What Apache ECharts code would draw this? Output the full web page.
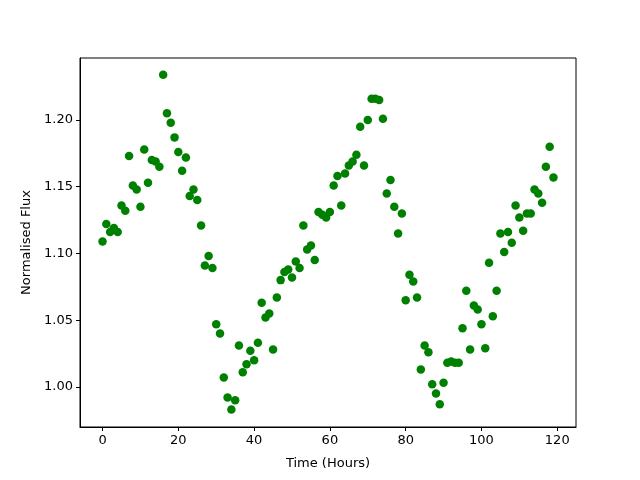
<!DOCTYPE html>
<html>
<head>
<meta charset="utf-8">
<script src="https://cdn.jsdelivr.net/npm/echarts@6/dist/echarts.min.js"></script>
<style>
  html, body { margin: 0; padding: 0; background: #fff; }
  #chart { width: 640px; height: 480px; }
</style>
</head>
<body>
<div id="chart"></div>
<script>
// hours 0..119
const hours = Array.from({ length: 120 }, (_, i) => i)
const flux = [
  1.109, 1.122, 1.116, 1.119, 1.116, 1.136, 1.132, 1.173, 1.151, 1.148,
  1.135, 1.178, 1.153, 1.170, 1.169, 1.165, 1.234, 1.205, 1.198, 1.187,
  1.176, 1.162, 1.172, 1.143, 1.148, 1.140, 1.121, 1.091, 1.098, 1.089,
  1.047, 1.040, 1.007, 0.992, 0.983, 0.990, 1.031, 1.011, 1.017, 1.027,
  1.020, 1.033, 1.063, 1.052, 1.055, 1.028, 1.067, 1.080, 1.086, 1.088,
  1.082, 1.094, 1.089, 1.121, 1.103, 1.106, 1.095, 1.131, 1.129, 1.127,
  1.131, 1.151, 1.158, 1.136, 1.160, 1.166, 1.169, 1.174, 1.195, 1.166,
  1.200, 1.216, 1.216, 1.215, 1.201, 1.145, 1.155, 1.135, 1.115, 1.130,
  1.065, 1.084, 1.079, 1.067, 1.013, 1.031, 1.026, 1.002, 0.995, 0.987,
  1.003, 1.018, 1.019, 1.018, 1.018, 1.044, 1.072, 1.028, 1.061, 1.058,
  1.047, 1.029, 1.093, 1.053, 1.072, 1.115, 1.101, 1.116, 1.108, 1.136,
  1.127, 1.117, 1.130, 1.130, 1.148, 1.145, 1.138, 1.165, 1.180, 1.157
]
const xTicks = [0, 20, 40, 60, 80, 100, 120]
const yTicks = [1.00, 1.05, 1.10, 1.15, 1.20]

const points = hours.map((h, i) => [h, flux[i]])
const font = 'DejaVu Sans'

const myChart = echarts.init(document.getElementById('chart'), null, { renderer: 'canvas' })
const option = {
  animation: false,
  textStyle: { fontFamily: font },
  grid: {
    left: 80,
    right: 64,
    top: 58,
    bottom: 53,
    show: true,
    borderColor: '#000',
    borderWidth: 1
  },
  xAxis: {
    type: 'value',
    min: -5.95,
    max: 124.95,
    name: 'Time (Hours)',
    nameLocation: 'middle',
    nameGap: 30,
    nameTextStyle: { color: '#000', fontSize: 13, fontFamily: font },
    axisLine: { show: true, onZero: false, lineStyle: { color: '#000', width: 1 } },
    axisTick: { show: true, inside: false, length: 4, customValues: xTicks, lineStyle: { color: '#000' } },
    axisLabel: { margin: 7, fontSize: 13, color: '#000', fontFamily: font, customValues: xTicks },
    splitLine: { show: false }
  },
  yAxis: {
    type: 'value',
    min: 0.9699,
    max: 1.2465,
    name: 'Normalised Flux',
    nameLocation: 'middle',
    nameRotate: 90,
    nameGap: 47,
    nameTextStyle: { color: '#000', fontSize: 13, fontFamily: font },
    axisLine: { show: true, onZero: false, lineStyle: { color: '#000', width: 1 } },
    axisTick: { show: true, inside: false, length: 4, customValues: yTicks, lineStyle: { color: '#000' } },
    axisLabel: {
      margin: 7,
      fontSize: 13,
      color: '#000',
      fontFamily: font,
      customValues: yTicks,
      formatter: v => v.toFixed(2)
    },
    splitLine: { show: false }
  },
  series: [
    {
      type: 'scatter',
      data: points,
      symbol: 'circle',
      symbolSize: 8.5,
      itemStyle: { color: '#008000', opacity: 1 },
      silent: true
    }
  ]
}
myChart.setOption(option)
</script>
</body>
</html>
